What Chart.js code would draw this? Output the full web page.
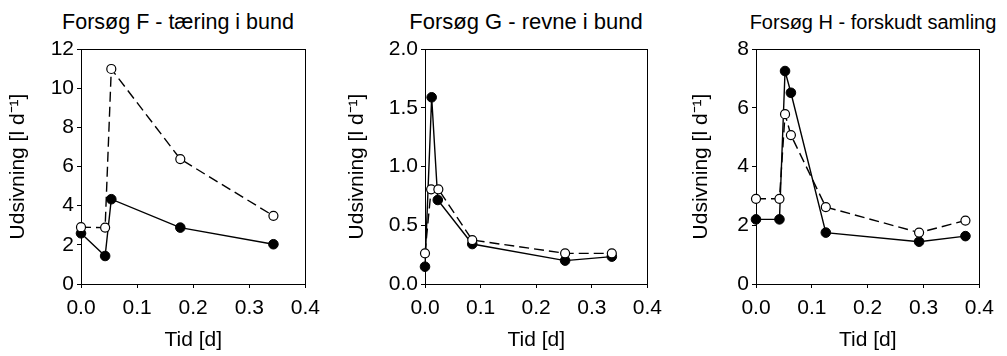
<!DOCTYPE html>
<html>
<head>
<meta charset="utf-8">
<script src="https://cdn.jsdelivr.net/npm/chart.js@4"></script>
<style>
  body { margin: 0; background: #fff; width: 1007px; height: 356px; position: relative; overflow: hidden; font-family: "Liberation Sans", Arial, sans-serif; }
  .panel { position: absolute; top: 0; }
  .title { position: absolute; top: 10px; width: 340px; text-align: center; font-size: 21.5px; line-height: 24px; color: #000; white-space: nowrap; }
</style>
</head>
<body>
<div class="title" style="left:8px">Forsøg F - tæring i bund</div>
<div class="title" style="left:356px; font-size:22px">Forsøg G - revne i bund</div>
<div class="title" style="left:703px; font-size:20px">Forsøg H - forskudt samling</div>
<canvas id="chartF" class="panel" width="328" height="356" style="left:0px"></canvas>
<canvas id="chartG" class="panel" width="331" height="356" style="left:339px"></canvas>
<canvas id="chartH" class="panel" width="319" height="356" style="left:683px"></canvas>
<script>
// data (tid in days, udsivning in l/d)
const tidF = [0, 0.043, 0.054, 0.177, 0.343];
const udsivFFyldt = [2.59, 1.43, 4.33, 2.88, 2.03];
const udsivFAaben = [2.9, 2.88, 10.98, 6.38, 3.48];

const tidGFyldt = [0, 0.012, 0.023, 0.085, 0.252, 0.336];
const udsivGFyldt = [0.147, 1.589, 0.715, 0.34, 0.199, 0.233];
const tidGAaben = [0, 0.011, 0.024, 0.085, 0.252, 0.336];
const udsivGAaben = [0.261, 0.806, 0.806, 0.374, 0.261, 0.261];

const tidH = [0, 0.042, 0.052, 0.0625, 0.125, 0.292, 0.375];
const udsivHFyldt = [2.2, 2.2, 7.25, 6.51, 1.75, 1.44, 1.63];
const udsivHAaben = [2.9, 2.9, 5.78, 5.07, 2.62, 1.75, 2.16];

const xTitle = "Tid [d]";
const yTitle = "Udsivning [l d\u207B\u00B9]";

Chart.defaults.font.family = "'Liberation Sans', Arial, sans-serif";
Chart.defaults.font.size = 21;
Chart.defaults.color = "#000";

function toPoints(xs, ys) {
  return xs.map((x, i) => ({ x: x, y: ys[i] }));
}

// box around the plot area (top and right sides too)
const framePlugin = {
  id: "frame",
  beforeDatasetsDraw(chart) {
    const { ctx, chartArea } = chart;
    ctx.save();
    ctx.strokeStyle = "#000";
    ctx.lineWidth = 1;
    ctx.strokeRect(
      Math.round(chartArea.left) + 0.5,
      Math.round(chartArea.top) + 0.5,
      Math.round(chartArea.right - chartArea.left),
      Math.round(chartArea.bottom - chartArea.top)
    );
    ctx.restore();
  },
};

function makePanel(canvasId, aaben, fyldt, yMax, yStep, yDecimals, yAxisWidth) {
  const canvas = document.getElementById(canvasId);
  new Chart(canvas, {
    type: "line",
    data: {
      datasets: [
        {
          data: aaben,
          borderColor: "#000",
          borderWidth: 1.4,
          borderDash: [10, 5],
          pointRadius: 4.5,
          pointBorderWidth: 1.2,
          pointBackgroundColor: "#fff",
          pointBorderColor: "#000",
          clip: false,
        },
        {
          data: fyldt,
          borderColor: "#000",
          borderWidth: 1.4,
          pointRadius: 4.8,
          pointBorderWidth: 1,
          pointBackgroundColor: "#000",
          pointBorderColor: "#000",
          clip: false,
        },
      ],
    },
    options: {
      responsive: false,
      animation: false,
      layout: { padding: { top: 49, right: 22, bottom: 0, left: 0 } },
      plugins: { legend: { display: false }, tooltip: { enabled: false } },
      scales: {
        x: {
          type: "linear",
          min: 0,
          max: 0.4,
          ticks: { stepSize: 0.1, padding: 8, maxRotation: 0, callback: (v) => v.toFixed(1) },
          grid: { drawOnChartArea: false, drawTicks: true, tickLength: 4, color: "#000" },
          border: { display: true, color: "#000", width: 1 },
          title: { display: true, text: xTitle, padding: { top: 0, bottom: 3 } },
          afterFit: (scale) => { scale.height = 72; },
        },
        y: {
          min: 0,
          max: yMax,
          ticks: { stepSize: yStep, padding: 3, callback: (v) => v.toFixed(yDecimals) },
          grid: { drawOnChartArea: false, drawTicks: true, tickLength: 4, color: "#000" },
          border: { display: true, color: "#000", width: 1 },
          title: { display: true, text: yTitle, padding: { top: 6, bottom: 0 } },
          afterFit: (scale) => { scale.width = yAxisWidth; },
        },
      },
    },
    plugins: [framePlugin],
  });
}

makePanel("chartF", toPoints(tidF, udsivFAaben), toPoints(tidF, udsivFFyldt), 12, 2, 0, 81);
makePanel("chartG", toPoints(tidGAaben, udsivGAaben), toPoints(tidGFyldt, udsivGFyldt), 2, 0.5, 1, 86);
makePanel("chartH", toPoints(tidH, udsivHAaben), toPoints(tidH, udsivHFyldt), 8, 2, 0, 73);
</script>
</body>
</html>
